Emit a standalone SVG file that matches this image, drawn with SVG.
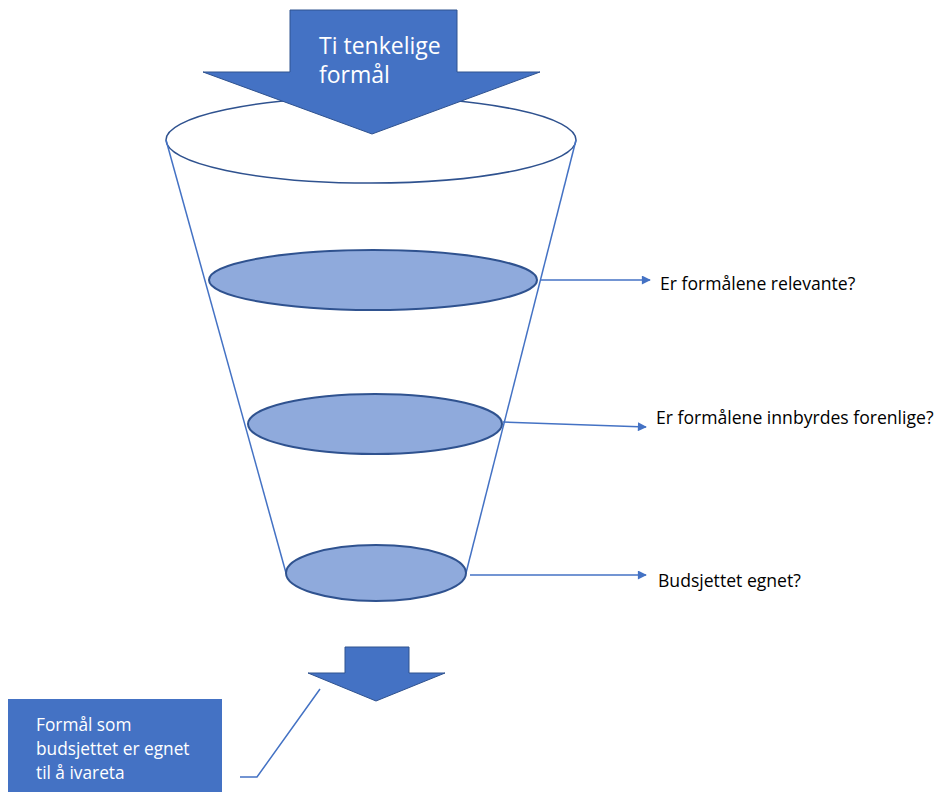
<svg xmlns="http://www.w3.org/2000/svg" width="946" height="792" viewBox="0 0 946 792">
<defs>
<style>
.lvl{fill:#8FAADC;stroke:#2F528F;stroke-width:2}
.arr{fill:#4472C4;stroke:#2F528F;stroke-width:1}
.con{stroke:#4472C4;stroke-width:1.5;fill:none}
.lbl{font-family:"Open Sans","Liberation Sans",sans-serif;font-size:17.6px;fill:#000}
.wt{font-family:"Open Sans","Liberation Sans",sans-serif;fill:#fff}
</style>
<marker id="ah" viewBox="0 0 10 10" refX="9" refY="5" markerWidth="10" markerHeight="9" orient="auto" markerUnits="userSpaceOnUse">
<path d="M0,0 L10,5 L0,10 z" fill="#4472C4"/>
</marker>
</defs>
<rect width="946" height="792" fill="#fff"/>
<g id="funnel">
<ellipse cx="371" cy="140" rx="205" ry="43" fill="#fff" stroke="#2F528F" stroke-width="1.5"/>
<line x1="166" y1="140" x2="286" y2="573" stroke="#4472C4" stroke-width="1.5"/>
<line x1="576" y1="140" x2="466" y2="573" stroke="#4472C4" stroke-width="1.5"/>
</g>
<g id="level1"><ellipse class="lvl" cx="373" cy="280" rx="164" ry="30"/></g>
<g id="level2"><ellipse class="lvl" cx="375" cy="424" rx="127" ry="30"/></g>
<g id="level3"><ellipse class="lvl" cx="376" cy="573" rx="90" ry="28"/></g>
<g id="top-arrow">
<polygon class="arr" points="290,10 457,10 457,72 540,72 372,134 203,72 290,72"/>
<text class="wt" font-size="23" x="319" y="54">Ti tenkelige</text>
<text class="wt" font-size="23" x="319" y="83">formål</text>
</g>
<g id="bottom-arrow">
<polygon class="arr" points="345,647 409,647 409,673 445,673 376,701 308,673 345,673"/>
</g>
<g id="result-box">
<rect x="8" y="699" width="214" height="93" fill="#4472C4"/>
<text class="wt" font-size="17.3" x="36" y="731">Formål som</text>
<text class="wt" font-size="17.3" x="36" y="755">budsjettet er egnet</text>
<text class="wt" font-size="17.3" x="36" y="779">til å ivareta</text>
</g>
<g id="q1"><text class="lbl" x="660" y="290">Er formålene relevante?</text></g>
<g id="q2"><text class="lbl" x="656" y="424">Er formålene innbyrdes forenlige?</text></g>
<g id="q3"><text class="lbl" x="658" y="587">Budsjettet egnet?</text></g>
<g id="connectors">
<line class="con" x1="540" y1="280" x2="650" y2="280" marker-end="url(#ah)"/>
<line class="con" x1="503" y1="422" x2="646" y2="427" marker-end="url(#ah)"/>
<line class="con" x1="470" y1="575" x2="646" y2="575" marker-end="url(#ah)"/>
<polyline class="con" points="240,777 257,777 320,689"/>
</g>
</svg>
